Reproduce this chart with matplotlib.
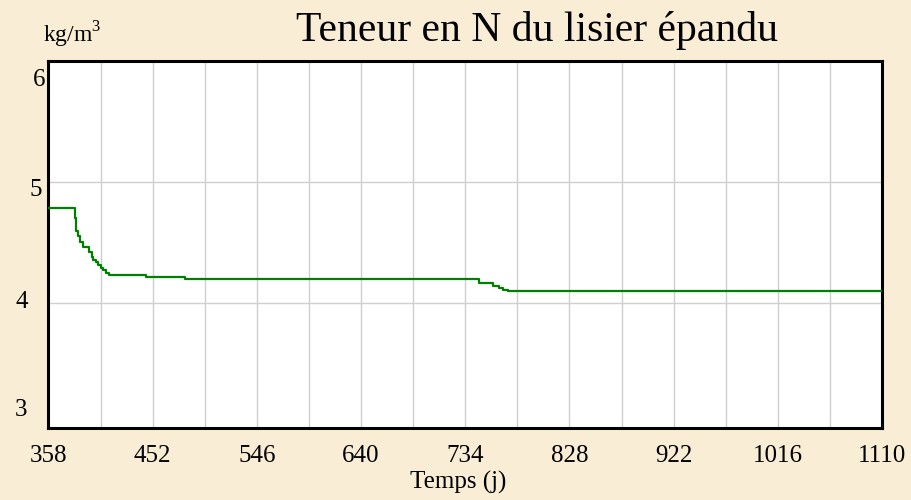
import matplotlib.pyplot as plt

# step data (day, kg/m3)
days = [358, 382, 383, 385, 386, 389, 395, 397, 398, 401, 403, 405, 407,
        410, 413, 446, 481, 746, 759, 764, 768, 773, 1110]
n_content = [4.78, 4.70, 4.59, 4.55, 4.50, 4.46, 4.42, 4.38, 4.35, 4.34,
             4.31, 4.29, 4.27, 4.25, 4.23, 4.21, 4.195, 4.16, 4.14, 4.12,
             4.11, 4.10, 4.10]

x_ticks = [358, 452, 546, 640, 734, 828, 922, 1016, 1110]
x_minor = [405, 499, 593, 687, 781, 875, 969, 1063]
y_ticks = [3, 4, 5, 6]
y_labels = ["3", "4", "5", "6"]

plt.rcParams['font.family'] = ['Liberation Serif', 'DejaVu Serif']

bg = "#f9eed5"
fig = plt.figure(figsize=(9.11, 5.0), dpi=100, facecolor=bg)
ax = fig.add_axes([0.0532, 0.144, 0.915, 0.735])
ax.set_facecolor("white")

ax.step(days, n_content, where="post", color="#008000", lw=1.6, zorder=3)

ax.set_xlim(358, 1110)
ax.set_ylim(2.967, 6)
ax.set_xticks(x_ticks)
ax.set_xticklabels([str(t) for t in x_ticks], fontsize=18)
ax.set_xticks(x_minor, minor=True)
ax.set_yticks([4, 5])
ax.set_yticklabels([])
ax.tick_params(axis="both", which="both", length=0)
ax.tick_params(axis="x", pad=12)
ax.grid(True, which="both", color="#cfcfcf", lw=1)
ax.set_axisbelow(True)
for s in ax.spines.values():
    s.set_linewidth(2.2)
    s.set_color("black")

# y labels are placed a bit irregularly in the original
y_offsets = {3: (-21.5, 14), 4: (-20.5, 1), 5: (-6.5, -8), 6: (-3.5, -19)}
for v, lab in zip(y_ticks, y_labels):
    dx, dy = y_offsets[v]
    ax.annotate(lab, xy=(0, v), xycoords=("axes fraction", "data"),
                xytext=(dx, dy), textcoords="offset pixels",
                ha="right", va="center", fontsize=18, annotation_clip=False)

fig.text(537 / 911, 1 - 30 / 500, "Teneur en N du lisier épandu",
         ha="center", va="center", fontsize=30)
fig.text(43 / 911, 1 - 35 / 500, r"kg/m$^\mathregular{3}$", ha="left",
         va="center", fontsize=17)
fig.text(458 / 911, 1 - 482 / 500, "Temps (j)", ha="center", va="center",
         fontsize=18)

fig.savefig("out.png", dpi=100, facecolor=bg)
